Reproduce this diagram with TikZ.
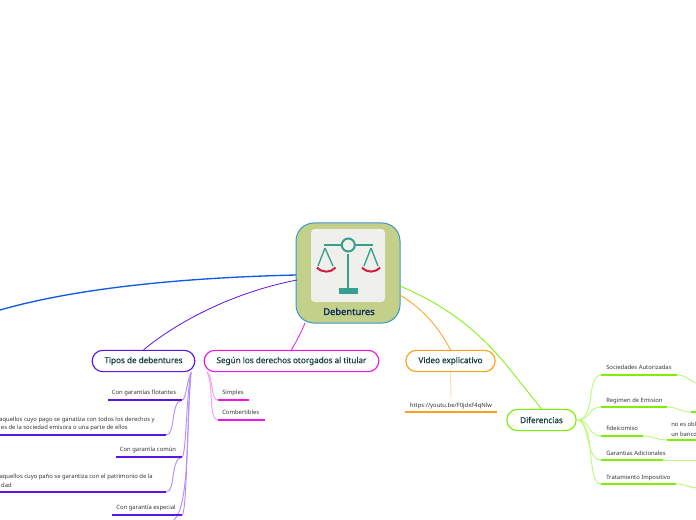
\documentclass[tikz,border=0pt]{standalone}
\usepackage{fontspec}
\setmainfont{Noto Sans}
\newfontfamily\medfont[FakeBold=0.5]{Noto Sans}
\newfontfamily\boldfont[FakeBold=1.4]{Noto Sans}
\definecolor{cblue}{HTML}{0F5BE6}
\definecolor{cpurple}{HTML}{5A14E6}
\definecolor{lpurple}{HTML}{B48CFF}
\definecolor{cmag}{HTML}{F014E6}
\definecolor{lmag}{HTML}{F79CF5}
\definecolor{corange}{HTML}{FF9F1C}
\definecolor{lorange}{HTML}{FFD9A6}
\definecolor{cgreen}{HTML}{7CF000}
\definecolor{lgreen}{HTML}{BDF77F}
\definecolor{cfill}{HTML}{C2D08A}
\definecolor{cedge}{HTML}{3A96D0}
\definecolor{ipanel}{HTML}{EFEFEB}
\definecolor{iteal}{HTML}{37A08C}
\definecolor{ired}{HTML}{CE2040}
\definecolor{navy}{HTML}{0B2A5C}
\definecolor{dteal}{HTML}{123F3C}
\tikzset{
  x=0.75pt,y=-0.75pt,
  topic/.style={draw=#1,line width=0.85pt,rounded corners=8pt,fill=white,inner sep=0pt,text=dteal,font=\medfont\fontsize{6.1pt}{8pt}\selectfont},
  lbl/.style={inner sep=0pt,text=black!80,font=\fontsize{4.4pt}{6pt}\selectfont},
  uline/.style={draw=#1,line width=1.1pt},
  soft/.style={draw=#1,line width=0.7pt},
}
\begin{document}
\begin{tikzpicture}
\useasboundingbox (0,0) rectangle (696,520);
\clip (0,0) rectangle (696,520);
% main branch lines
\node[draw=cedge,fill=cfill,line width=0.75pt,rounded corners=13.5pt,minimum width=78pt,minimum height=75pt,inner sep=0pt] (root) at (348,273) {};
\coordinate (rb) at (296,275);
\coordinate (rp) at (297,280);
\coordinate (rm) at (305,323);
\coordinate (ro) at (400,295);
\coordinate (rg) at (400,286);
\coordinate (offb) at (0,310);
% branch nodes
\node[topic=cpurple,minimum width=77pt,minimum height=16pt] (tipos) at (143.5,361) {Tipos de debentures};
\node[topic=cmag,minimum width=131pt,minimum height=16pt] (segun) at (291.5,361) {Según los derechos otorgados al titular};
\node[topic=corange,minimum width=67pt,minimum height=16pt] (video) at (450.5,361) {Video explicativo};
\node[topic=cgreen,minimum width=52pt,minimum height=16pt] (dif) at (541.5,420) {Diferencias};
\draw[cblue,line width=1pt] (rb) .. controls (170,278) and (70,290) .. (offb);
\draw[cpurple,line width=0.6pt] (rp) .. controls (235,292) and (180,320) .. (tipos.north);
\draw[cmag,line width=0.6pt] (rm) .. controls (300,335) and (297,340) .. (segun.north);
\draw[corange,line width=0.6pt] (ro) .. controls (425,310) and (440,330) .. (video.north);
\draw[cgreen,line width=0.6pt] (rg) .. controls (480,320) and (505,365) .. (dif.north);
% root contents
\node[fill=ipanel,rounded corners=3pt,minimum width=55.5pt,minimum height=55pt,inner sep=0pt] (panel) at (348,265.5) {};
\node[inner sep=0pt,text=navy,font=\boldfont\fontsize{7pt}{8pt}\selectfont] (rootlbl) at (349,311.5) {Debentures};
\draw[iteal,line width=1.4pt] (324,245) -- (373,245);
\draw[iteal,line width=1.5pt] (348.3,254) -- (348.3,289);
\draw[iteal,line width=1.5pt,fill=ipanel] (348.3,245) circle[radius=6.5];
\fill[iteal] (339,288) rectangle (357.7,293.7);
\draw[iteal,line width=1pt] (325,248) -- (318,266) (325,248) -- (333,266);
\draw[iteal,line width=1pt] (371,248) -- (364,266) (371,248) -- (378,266);
\draw[ired,line width=1.5pt] (317,267.5) .. controls (322,273) and (331,273) .. (335.5,267.5);
\draw[ired,line width=1.5pt] (362,267.5) .. controls (367,273) and (375,273) .. (380,267.5);
% Tipos leaves
\coordinate (ta) at (191,372);
\coordinate (t1l) at (108,400); \coordinate (t1r) at (182,400);
\coordinate (t2l) at (0,435); \coordinate (t2r) at (166,435);
\coordinate (t3l) at (116,457); \coordinate (t3r) at (182,457);
\coordinate (t4l) at (0,492); \coordinate (t4r) at (166,492);
\coordinate (t5l) at (112,515); \coordinate (t5r) at (182,515);
\coordinate (t6) at (174,520);
\draw[soft=lpurple] (ta) .. controls (186,385) and (186,400) .. (t1r);
\draw[soft=lpurple] (ta) .. controls (186,400) and (186,457) .. (t3r);
\draw[soft=lpurple] (ta) .. controls (187,420) and (187,514) .. (t5r);
\draw[soft=lpurple] (ta) .. controls (186,430) and (190,505) .. (t6);
\draw[soft=lpurple] (t1r) .. controls (170,402) and (176,435) .. (t2r);
\draw[soft=lpurple] (t3r) .. controls (170,459) and (176,492) .. (t4r);
\foreach \n in {1,...,5}{\draw[uline=cpurple] (t\n l) -- (t\n r);}
\node[lbl,anchor=base] (t1) at (144,394) {Con garantías flotantes};
\node[lbl,anchor=base east] (t2a) at (155,421) {aquellos cuyo pago se ganatiza con todos los derechos y};
\node[lbl,anchor=base east] (t2b) at (128,429) {es de la sociedad emisora o una parte de ellos};
\node[lbl,anchor=base] (t3) at (148,451.5) {Con garantía común};
\node[lbl,anchor=base east] (t4a) at (153,478) {aquellos cuyo paño se garantiza con el patrimonio de la};
\node[lbl,anchor=base east] (t4b) at (12,487) {dad};
\node[lbl,anchor=base] (t5) at (146,509) {Con garantía especial};
% Según leaves
\coordinate (sa) at (207,372);
\coordinate (s1l) at (218,400); \coordinate (s1r) at (249,400);
\coordinate (s2l) at (218,420); \coordinate (s2r) at (265,420);
\draw[soft=lmag] (sa) .. controls (214,378) and (210,400) .. (s1l);
\draw[soft=lmag] (sa) .. controls (214,385) and (208,420) .. (s2l);
\draw[uline=cmag] (s1l) -- (s1r);
\draw[uline=cmag] (s2l) -- (s2r);
\node[lbl,anchor=base west] (s1) at (222,394) {Simples};
\node[lbl,anchor=base west] (s2) at (222,414) {Combertibles};
% Video leaf
\coordinate (v1l) at (405,412); \coordinate (v1r) at (497,412); \coordinate (v1t) at (451,398);
\draw[soft=lorange] (video.south) -- (v1t);
\draw[uline=corange] (v1l) -- (v1r);
\node[lbl,anchor=base] (v1) at (451,407) {https://youtu.be/F0jdxF4qNlw};
% Diferencias leaves
\coordinate (da) at (578,420);
\coordinate (d1l) at (601,375); \coordinate (d1r) at (677,375); \coordinate (d1e) at (696,383);
\coordinate (d2l) at (601,407); \coordinate (d2r) at (667,407); \coordinate (d2m) at (691,412); \coordinate (d2e) at (696,412);
\coordinate (d3l) at (601,436); \coordinate (d3r) at (643,436); \coordinate (d3m) at (667,440); \coordinate (d3e) at (696,440);
\coordinate (d4l) at (601,460); \coordinate (d4r) at (663,460); \coordinate (d4e) at (696,460);
\coordinate (d5l) at (601,484); \coordinate (d5r) at (676,484); \coordinate (d5e) at (696,488);
\draw[soft=lgreen] (da) .. controls (596,418) and (586,376) .. (d1l);
\draw[soft=lgreen] (da) .. controls (590,420) and (588,407) .. (d2l);
\draw[soft=lgreen] (da) .. controls (590,420) and (588,436) .. (d3l);
\draw[soft=lgreen] (da) .. controls (590,424) and (586,460) .. (d4l);
\draw[soft=lgreen] (da) .. controls (596,424) and (586,484) .. (d5l);
\draw[soft=lgreen] (d1r) .. controls (686,375) and (688,380) .. (d1e);
\draw[soft=lgreen] (d2r) .. controls (678,407) and (680,412) .. (d2m);
\draw[soft=lgreen] (d3r) .. controls (654,436) and (656,440) .. (d3m);
\draw[soft=lgreen] (d4r) -- (d4e);
\draw[soft=lgreen] (d5r) .. controls (685,484) and (688,487) .. (d5e);
\draw[uline=cgreen] (d1l) -- (d1r);
\draw[uline=cgreen] (d2l) -- (d2r);
\draw[uline=cgreen] (d2m) -- (d2e);
\draw[uline=cgreen] (d3l) -- (d3r);
\draw[uline=cgreen] (d3m) -- (d3e);
\draw[uline=cgreen] (d4l) -- (d4r);
\draw[uline=cgreen] (d5l) -- (d5r);
\node[lbl,anchor=base west] (d1) at (606,369) {Sociedades Autorizadas};
\node[lbl,anchor=base west] (d2) at (606,402) {Regimen de Emision};
\node[lbl,anchor=base west] (d3) at (606,430) {fideicomiso};
\node[lbl,anchor=base west] (d3a) at (671,426) {no es obl};
\node[lbl,anchor=base west] (d3b) at (671,436) {un banco};
\node[lbl,anchor=base west] (d4) at (606,455) {Garantias Adicionales};
\node[lbl,anchor=base west] (d5) at (606,479) {Tratamiento Impositivo};
\end{tikzpicture}
\end{document}
